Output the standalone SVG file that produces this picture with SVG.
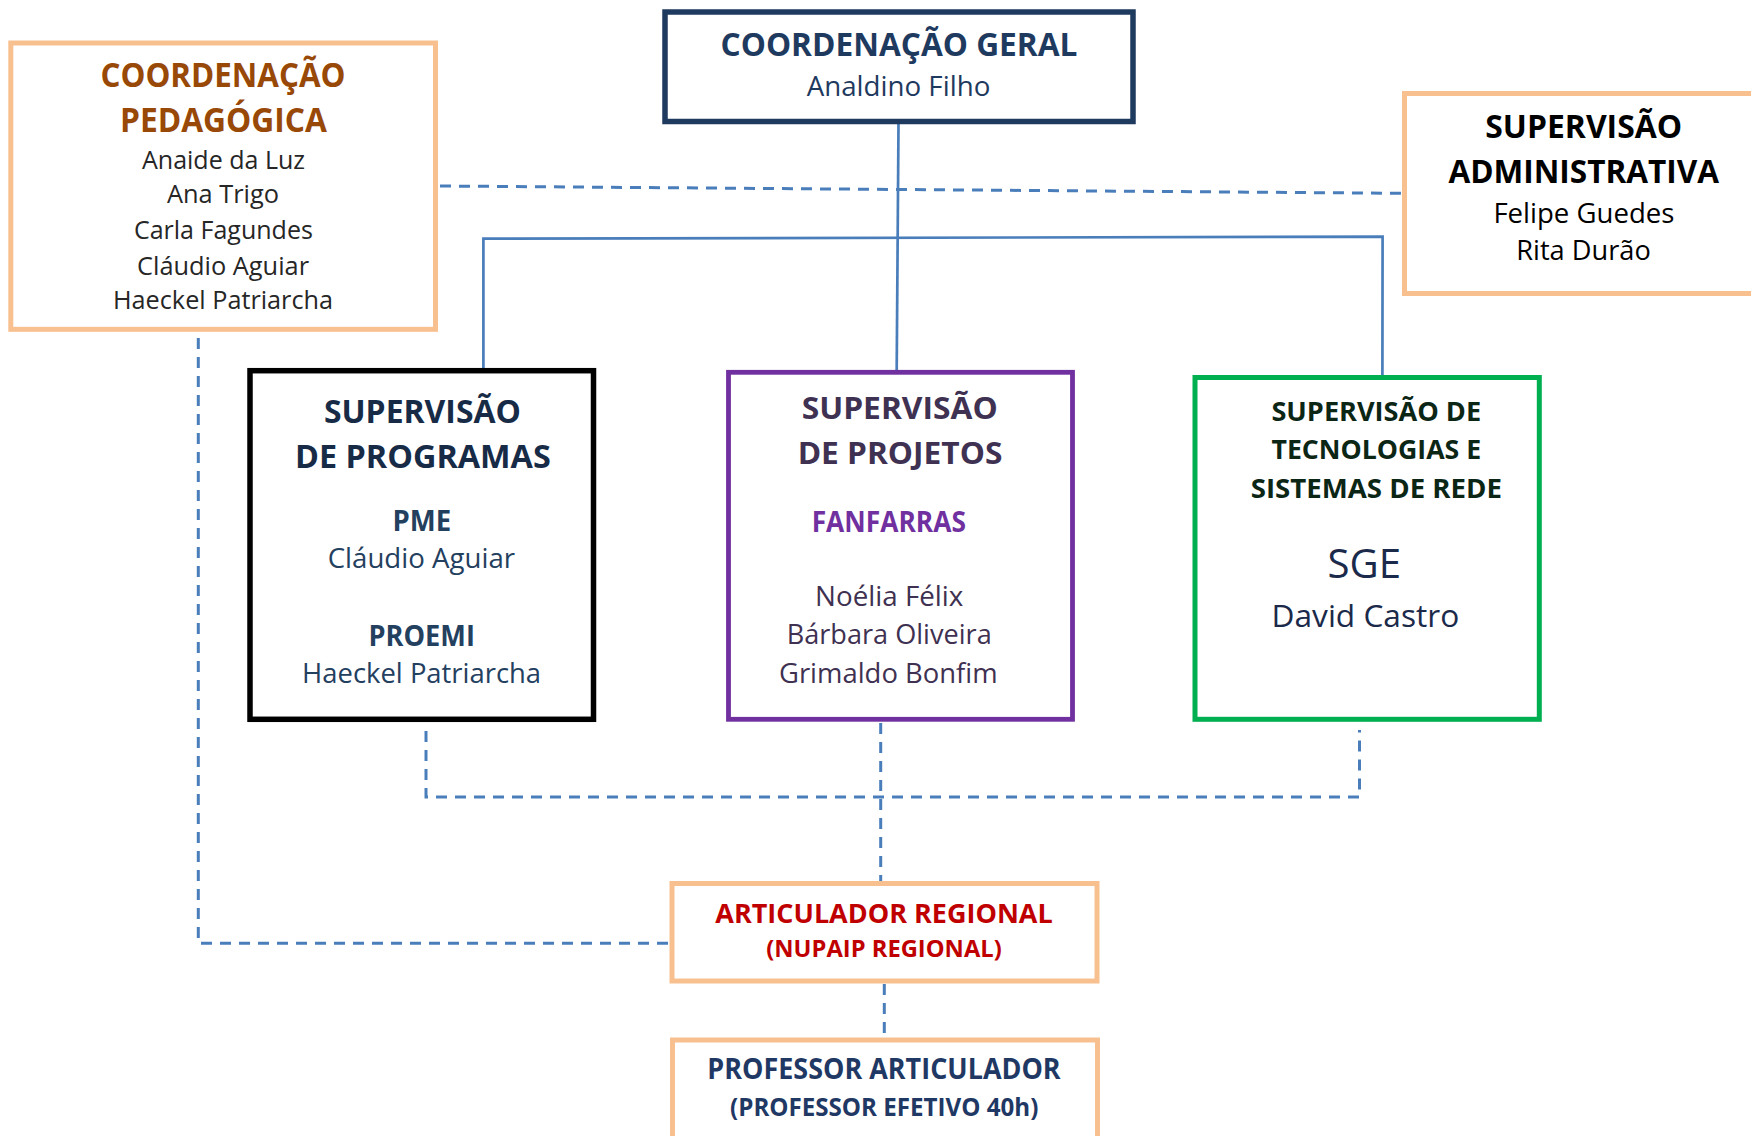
<svg xmlns="http://www.w3.org/2000/svg" width="1751" height="1136" viewBox="0 0 1751 1136">
<style>
  text { font-family: "Open Sans", "Noto Sans", "Liberation Sans", sans-serif; text-anchor: middle; }
  .b { font-weight: 700; }
  .box { fill: #ffffff; }
  .orange { stroke: #F9C08F; stroke-width: 5; }
  .solid { stroke: #4A7EBB; stroke-width: 2.7; fill: none; }
  .dash { stroke: #4A7EBB; stroke-width: 3; fill: none; stroke-dasharray: 11 8; }
</style>
<rect x="0" y="0" width="1751" height="1136" fill="#ffffff"/>

<g id="connectors">
  <line class="solid" x1="898.5" y1="124" x2="896.7" y2="370"/>
  <polyline class="solid" points="483.4,368 483.4,238.7 1382.6,236.7 1382.4,375"/>
  <line class="dash" x1="440" y1="186" x2="1402" y2="193.3"/>
  <polyline class="dash" points="198.3,338 198.3,943.3 669,943.3"/>
  <polyline class="dash" points="426,731 426,797 1359.5,797 1359.5,730"/>
  <line class="dash" x1="880.7" y1="723" x2="880.7" y2="881"/>
  <line class="dash" x1="884.3" y1="984" x2="884.3" y2="1037"/>
</g>

<g id="coord-pedagogica">
  <rect class="box orange" x="10.8" y="43" width="424.7" height="286.3"/>
  <g fill="#984807" class="b" font-size="33.6">
    <text class="b" x="223" y="87.3" textLength="245" lengthAdjust="spacingAndGlyphs">COORDENAÇÃO</text>
    <text class="b" x="223.5" y="131.7" textLength="207" lengthAdjust="spacingAndGlyphs">PEDAGÓGICA</text>
  </g>
  <g fill="#262626" font-size="25.2">
    <text x="223.5" y="169" textLength="163" lengthAdjust="spacingAndGlyphs">Anaide da Luz</text>
    <text x="223" y="203.3" textLength="112" lengthAdjust="spacingAndGlyphs">Ana Trigo</text>
    <text x="223.4" y="239.3" textLength="179" lengthAdjust="spacingAndGlyphs">Carla Fagundes</text>
    <text x="223" y="275" textLength="172" lengthAdjust="spacingAndGlyphs">Cláudio Aguiar</text>
    <text x="223" y="309.3" textLength="220" lengthAdjust="spacingAndGlyphs">Haeckel Patriarcha</text>
  </g>
</g>

<g id="coord-geral">
  <rect class="box" x="665" y="12" width="468" height="109.5" stroke="#1F3A5F" stroke-width="5.5"/>
  <text class="b" x="899" y="56" font-size="32.6" fill="#1F3A5F" textLength="357" lengthAdjust="spacingAndGlyphs">COORDENAÇÃO GERAL</text>
  <text x="898.5" y="96" font-size="28" fill="#1F3A5F" textLength="183.7" lengthAdjust="spacingAndGlyphs">Analdino Filho</text>
</g>

<g id="sup-administrativa">
  <rect class="box orange" x="1404.5" y="93.5" width="400" height="200"/>
  <text class="b" x="1583.7" y="137.7" font-size="31.8" fill="#000000" textLength="196.8" lengthAdjust="spacingAndGlyphs">SUPERVISÃO</text>
  <text class="b" x="1583.7" y="182.7" font-size="31.8" fill="#000000" textLength="270.6" lengthAdjust="spacingAndGlyphs">ADMINISTRATIVA</text>
  <text x="1583.9" y="222.7" font-size="28" fill="#000000" textLength="181" lengthAdjust="spacingAndGlyphs">Felipe Guedes</text>
  <text x="1583.5" y="260" font-size="28" fill="#000000" textLength="134.5" lengthAdjust="spacingAndGlyphs">Rita Durão</text>
</g>

<g id="sup-programas">
  <rect class="box" x="250" y="370.7" width="343.5" height="348.6" stroke="#000000" stroke-width="5.5"/>
  <text class="b" x="422.4" y="423.3" font-size="32.6" fill="#172B47" textLength="197" lengthAdjust="spacingAndGlyphs">SUPERVISÃO</text>
  <text class="b" x="422.9" y="468.3" font-size="32.6" fill="#172B47" textLength="255.7" lengthAdjust="spacingAndGlyphs">DE PROGRAMAS</text>
  <text class="b" x="421.9" y="531" font-size="28" fill="#24405F" textLength="58.6" lengthAdjust="spacingAndGlyphs">PME</text>
  <text x="421.4" y="568.3" font-size="27.5" fill="#24405F" textLength="187.5" lengthAdjust="spacingAndGlyphs">Cláudio Aguiar</text>
  <text class="b" x="421.7" y="646" font-size="28" fill="#24405F" textLength="106.4" lengthAdjust="spacingAndGlyphs">PROEMI</text>
  <text x="421.6" y="683.3" font-size="27.5" fill="#24405F" textLength="239" lengthAdjust="spacingAndGlyphs">Haeckel Patriarcha</text>
</g>

<g id="sup-projetos">
  <rect class="box" x="728.5" y="372.3" width="344" height="347" stroke="#7030A0" stroke-width="4.8"/>
  <text class="b" x="899.7" y="419" font-size="31.2" fill="#3F3151" textLength="196" lengthAdjust="spacingAndGlyphs">SUPERVISÃO</text>
  <text class="b" x="900" y="464" font-size="31.2" fill="#3F3151" textLength="204.7" lengthAdjust="spacingAndGlyphs">DE PROJETOS</text>
  <text class="b" x="888.8" y="531.7" font-size="28" fill="#7030A0" textLength="154.3" lengthAdjust="spacingAndGlyphs">FANFARRAS</text>
  <text x="889.2" y="605.7" font-size="28" fill="#3F3151" textLength="148.3" lengthAdjust="spacingAndGlyphs">Noélia Félix</text>
  <text x="889.2" y="644" font-size="28" fill="#3F3151" textLength="205" lengthAdjust="spacingAndGlyphs">Bárbara Oliveira</text>
  <text x="888.3" y="682.7" font-size="28" fill="#3F3151" textLength="218.7" lengthAdjust="spacingAndGlyphs">Grimaldo Bonfim</text>
</g>

<g id="sup-tecnologias">
  <rect class="box" x="1195" y="377.5" width="344.3" height="341.8" stroke="#00B050" stroke-width="5"/>
  <text class="b" x="1376.3" y="420.7" font-size="26.6" fill="#0C2616" textLength="209.7" lengthAdjust="spacingAndGlyphs">SUPERVISÃO DE</text>
  <text class="b" x="1376.3" y="459" font-size="26.6" fill="#0C2616" textLength="209.7" lengthAdjust="spacingAndGlyphs">TECNOLOGIAS E</text>
  <text class="b" x="1376.3" y="497.7" font-size="26.6" fill="#0C2616" textLength="251.2" lengthAdjust="spacingAndGlyphs">SISTEMAS DE REDE</text>
  <text x="1364.3" y="578.3" font-size="40.6" fill="#1B2A4A" textLength="73.5" lengthAdjust="spacingAndGlyphs">SGE</text>
  <text x="1365.4" y="626.7" font-size="31.8" fill="#1B2A4A" textLength="187.7" lengthAdjust="spacingAndGlyphs">David Castro</text>
</g>

<g id="articulador-regional">
  <rect class="box orange" x="672" y="883.5" width="425" height="97.5"/>
  <text class="b" x="884" y="922.7" font-size="26.2" fill="#C00000" textLength="337.4" lengthAdjust="spacingAndGlyphs">ARTICULADOR REGIONAL</text>
  <text class="b" x="884" y="956.7" font-size="22.4" fill="#C00000" textLength="235.4" lengthAdjust="spacingAndGlyphs">(NUPAIP REGIONAL)</text>
</g>

<g id="professor-articulador">
  <rect class="box orange" x="672.5" y="1040" width="425" height="200"/>
  <text class="b" x="884" y="1079.3" font-size="28" fill="#1F3864" textLength="353.3" lengthAdjust="spacingAndGlyphs">PROFESSOR ARTICULADOR</text>
  <text class="b" x="884.2" y="1116" font-size="25" fill="#1F3864" textLength="308.3" lengthAdjust="spacingAndGlyphs">(PROFESSOR EFETIVO 40h)</text>
</g>
</svg>
